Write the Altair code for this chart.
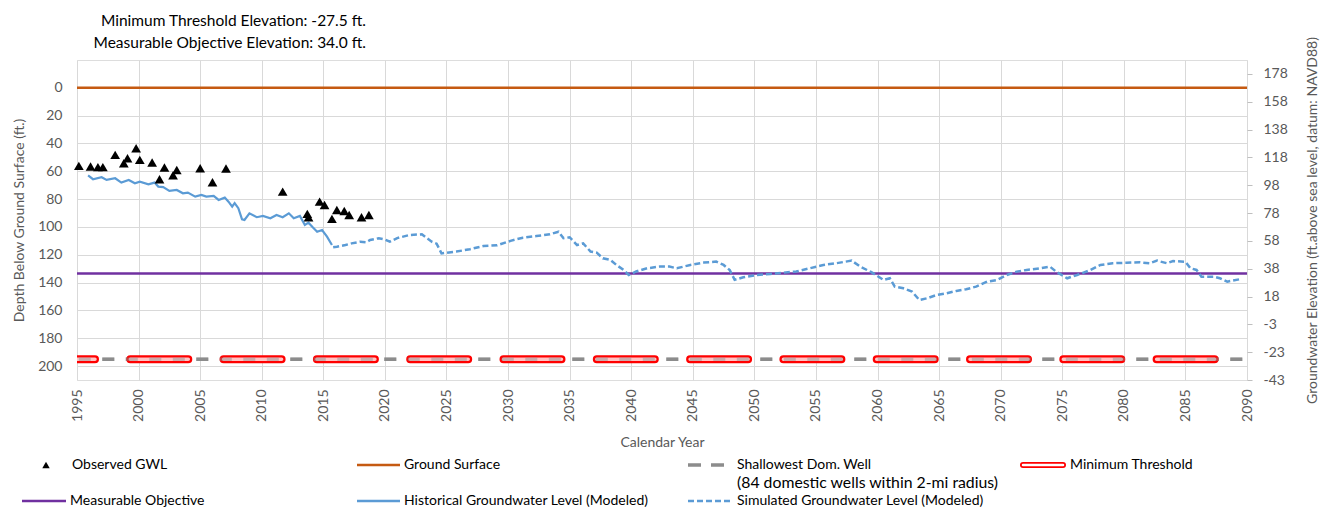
import altair as alt
import pandas as pd

# ---------------- data ----------------
obs_year = [1995.15, 1996.1, 1996.7, 1997.1, 1998.1, 1998.8, 1999.1, 1999.8, 2000.1,
            2001.1, 2001.7, 2002.1, 2002.8, 2003.1, 2005.0, 2006.0, 2007.1, 2011.7,
            2013.7, 2013.8, 2014.7, 2015.1, 2015.7, 2016.1, 2016.7, 2017.1, 2018.1, 2018.7]
obs_depth = [56.1, 56.6, 57.0, 57.0, 48.2, 54.2, 50.6, 43.4, 51.8,
             53.7, 65.7, 57.3, 62.8, 59.0, 57.8, 67.9, 58.0, 74.6,
             90.6, 93.0, 81.8, 84.2, 94.2, 87.8, 88.5, 91.4, 93.0, 91.4]

hist_year = [1995.9, 1996.3, 1997.0, 1997.4, 1998.1, 1998.6, 1999.2, 1999.7, 2000.1, 2000.8,
             2001.3, 2001.6, 2002.0, 2002.5, 2003.1, 2003.6, 2004.0, 2004.6, 2005.1, 2005.5,
             2006.1, 2006.5, 2007.0, 2007.3, 2007.6, 2007.8, 2008.1, 2008.4, 2008.6, 2009.0,
             2009.6, 2010.1, 2010.7, 2011.2, 2011.7, 2012.2, 2012.6, 2013.1, 2013.5, 2013.8,
             2014.1, 2014.5, 2014.9, 2015.3, 2015.7]
hist_depth = [63.0, 65.7, 64.3, 66.2, 65.0, 68.1, 66.2, 68.6, 67.4, 69.3,
              68.1, 71.0, 71.4, 74.1, 73.4, 75.8, 75.3, 78.2, 77.0, 78.2,
              77.7, 80.6, 78.9, 81.8, 85.4, 82.9, 86.5, 94.5, 95.0, 90.2,
              93.0, 92.1, 93.8, 91.4, 93.0, 90.2, 93.8, 92.1, 98.6, 96.9,
              99.8, 103.4, 102.2, 107.0, 113.0]

sim_year = [2015.8, 2016.1, 2016.5, 2016.8, 2017.3, 2018.0, 2018.5, 2018.8, 2019.5, 2020.0,
            2020.4, 2021.0, 2022.0, 2023.0, 2023.8, 2024.2, 2024.6, 2025.8, 2026.9, 2028.0,
            2029.1, 2030.2, 2031.2, 2032.3, 2033.4, 2034.1, 2034.5, 2035.0, 2035.6, 2036.1,
            2036.7, 2037.2, 2037.7, 2038.3, 2038.8, 2039.4, 2039.8, 2040.4, 2041.3, 2042.3,
            2043.1, 2043.7, 2044.8, 2045.9, 2046.9, 2047.5, 2048.0, 2048.4, 2049.1, 2050.2,
            2051.3, 2052.3, 2053.4, 2054.5, 2055.6, 2056.7, 2057.9, 2058.6, 2059.5, 2060.5,
            2061.0, 2061.4, 2062.1, 2062.8, 2063.4, 2064.0, 2064.8, 2065.6, 2066.4, 2067.2,
            2068.0, 2068.9, 2069.7, 2070.5, 2071.3, 2072.1, 2073.2, 2074.0, 2074.5, 2075.4,
            2076.2, 2077.3, 2078.1, 2079.1, 2080.2, 2081.3, 2082.1, 2082.7, 2083.5, 2084.0,
            2085.0, 2085.4, 2085.9, 2086.3, 2087.3, 2087.8, 2088.4, 2089.4]
sim_depth = [114.6, 114.2, 113.5, 113.0, 111.8, 110.6, 111.0, 109.4, 108.1, 109.0,
             110.6, 108.0, 105.8, 105.3, 110.6, 112.0, 119.0, 117.7, 116.0, 113.7,
             113.2, 110.0, 107.7, 106.5, 105.3, 103.4, 108.1, 107.4, 113.0, 111.8,
             117.7, 118.5, 122.5, 123.7, 127.3, 131.0, 134.5, 132.0, 129.7, 128.5,
             128.5, 129.7, 127.3, 125.6, 124.9, 127.3, 131.0, 138.0, 136.2, 134.5,
             133.8, 132.9, 132.0, 129.7, 127.3, 126.0, 124.2, 128.5, 132.5, 138.1,
             136.9, 142.9, 144.1, 146.5, 152.5, 151.3, 148.9, 147.7, 146.0, 144.8,
             142.9, 139.3, 138.1, 134.5, 132.1, 130.9, 129.7, 128.5, 132.1, 136.9,
             134.5, 130.9, 127.3, 126.1, 125.7, 125.4, 126.1, 124.2, 126.1, 124.5,
             125.0, 129.7, 130.9, 135.7, 135.7, 136.9, 139.3, 137.6]

GROUND_ELEV = 167.5
MT_ELEV = -27.5
SDW_ELEV = -27.5
MO_ELEV = 34.0
X_RANGE = [1995, 2090]

year_ticks = [1995, 2000, 2005, 2010, 2015, 2020, 2025, 2030, 2035, 2040,
              2045, 2050, 2055, 2060, 2065, 2070, 2075, 2080, 2085, 2090]
depth_ticks = [0, 20, 40, 60, 80, 100, 120, 140, 160, 180, 200]
elev_ticks = [-42.5, -22.5, -2.5, 17.5, 37.5, 57.5, 77.5, 97.5, 117.5, 137.5, 157.5, 177.5]

TITLE = "Hydrograph CASGEM ID 10051 - Outside CC"
INFO_LINES = ["Elevation of Shallowest Domestic Well: -27.5 ft.",
              "Minimum Threshold Elevation: -27.5 ft.",
              "Measurable Objective Elevation: 34.0 ft."]

# ---------------- frames ----------------
obs_df = pd.DataFrame({"year": obs_year, "depth": obs_depth})
hist_df = pd.DataFrame({"year": hist_year, "depth": hist_depth})
sim_df = pd.DataFrame({"year": sim_year, "depth": sim_depth})
mo_df = pd.DataFrame({"year": X_RANGE, "depth": [GROUND_ELEV - MO_ELEV] * 2})
mt_df = pd.DataFrame({"year": X_RANGE, "depth": [GROUND_ELEV - MT_ELEV] * 2})
sdw_df = pd.DataFrame({"year": X_RANGE, "depth": [GROUND_ELEV - SDW_ELEV] * 2})
gs_df = pd.DataFrame({"year": X_RANGE, "elev": [GROUND_ELEV] * 2})
one = pd.DataFrame({"a": [0]})

FONT = "Lato"
GRAY_TXT = "#595959"
W, H = 1170, 320

x_enc = alt.X("year:Q",
              scale=alt.Scale(domain=X_RANGE, nice=False, zero=False),
              axis=alt.Axis(values=year_ticks, format="d", labelAngle=-90,
                            title="Calendar Year", grid=True, gridColor="#d9d9d9",
                            ticks=False, domain=False, labelPadding=9,
                            labelFontSize=14, titleFontSize=14, titlePadding=14,
                            labelColor=GRAY_TXT, titleColor=GRAY_TXT,
                            labelFont=FONT, titleFont=FONT, titleFontWeight="normal"))
y_enc = alt.Y("depth:Q",
              scale=alt.Scale(domain=[-20, 210], reverse=True, nice=False, zero=False),
              axis=alt.Axis(values=depth_ticks, title="Depth Below Ground Surface  (ft.)",
                            grid=True, gridColor="#d9d9d9", ticks=False, domain=False,
                            labelPadding=15, labelFontSize=14, titleFontSize=14,
                            titlePadding=11, labelColor=GRAY_TXT, titleColor=GRAY_TXT,
                            labelFont=FONT, titleFont=FONT, titleFontWeight="normal"))

base = lambda df: alt.Chart(df)

mo = base(mo_df).mark_line(color="#7030a0", strokeWidth=2.5).encode(x=x_enc, y=y_enc)
sdw = base(sdw_df).mark_line(color="#8c8c8c", strokeWidth=3.5, strokeDash=[12, 11.5],
                             strokeDashOffset=21.7, clip=True).encode(x=x_enc, y=y_enc)
mt_outer = base(mt_df).mark_line(color="#ff0000", strokeWidth=8, strokeCap="round",
                                 strokeDash=[58, 35.3], strokeDashOffset=40,
                                 clip=True).encode(x=x_enc, y=y_enc)
mt_inner = base(mt_df).mark_line(color="#ffc4c4", strokeWidth=3.5, strokeCap="round",
                                 strokeDash=[58, 35.3], strokeDashOffset=40,
                                 clip=True).encode(x=x_enc, y=y_enc)
sdw_over = base(sdw_df).mark_line(color="#8c8c8c", strokeWidth=3.5, strokeDash=[12, 11.5],
                                  strokeDashOffset=21.7, opacity=0.45,
                                  clip=True).encode(x=x_enc, y=y_enc)
hist = base(hist_df).mark_line(color="#5b9bd5", strokeWidth=2.2).encode(x=x_enc, y=y_enc)
sim = base(sim_df).mark_line(color="#5b9bd5", strokeWidth=2.5, strokeDash=[6, 3]).encode(x=x_enc, y=y_enc)
obs = base(obs_df).mark_point(shape="triangle-up", filled=True, size=95, color="black",
                              opacity=1).encode(x=x_enc, y=y_enc)

# ---- text above the plot (positions in px relative to plot origin) ----
def txt(s, x, y, size=14, align="left", color="black", font=FONT):
    return base(one).mark_text(text=s, align=align, baseline="middle", fontSize=size,
                               font=font, color=color).encode(x=alt.value(x), y=alt.value(y))

info = [txt(INFO_LINES[0], 289, -62, 15.5, "right"),
        txt(INFO_LINES[1], 289, -39, 15.5, "right"),
        txt(INFO_LINES[2], 289, -17, 15.5, "right"),
        txt(TITLE, 543, -63, 20, "center", GRAY_TXT)]

# ---- legend ----
def rule(x1, x2, y, color, width, dash=None, cap="butt"):
    kw = dict(color=color, strokeWidth=width, strokeCap=cap)
    if dash:
        kw["strokeDash"] = dash
    return base(one).mark_rule(**kw).encode(x=alt.value(x1), x2=alt.value(x2), y=alt.value(y))

R1, R1b, R2 = 405, 423, 441
legend = [
    base(one).mark_point(shape="triangle-up", filled=True, size=55, color="black",
                         opacity=1).encode(x=alt.value(-31), y=alt.value(R1)),
    txt("Observed GWL", -5, R1),
    rule(280, 323, R1, "#c55a11", 2.5),
    txt("Ground Surface", 327, R1),
    rule(611, 650, R1, "#8c8c8c", 3.5, [13, 10]),
    txt("Shallowest Dom. Well", 660, R1),
    txt("(84 domestic wells within 2-mi radius)", 660, R1b, 15.8),
    rule(946, 986, R1, "#ff0000", 6, None, "round"),
    rule(946, 986, R1, "#ffffff", 2.5, None, "round"),
    txt("Minimum Threshold", 993, R1),
    rule(-55, -11, R2, "#7030a0", 2.5),
    txt("Measurable Objective", -7, R2),
    rule(280, 323, R2, "#5b9bd5", 2.5),
    txt("Historical Groundwater Level (Modeled)", 327, R2),
    rule(611, 656, R2, "#5b9bd5", 2.5, [6, 3]),
    txt("Simulated Groundwater Level (Modeled)", 660, R2),
]

left = alt.layer(mo, sdw, mt_outer, mt_inner, sdw_over, hist, sim, obs, *info, *legend)

right_y = alt.Y("elev:Q",
                scale=alt.Scale(domain=[-42.5, 187.5], nice=False, zero=False),
                axis=alt.Axis(orient="right", values=elev_ticks,
                              labelExpr="datum.value < 0 ? '-' + format(-datum.value, '.0f') : format(datum.value, '.0f')",
                              title="Groundwater Elevation (ft.above sea level, datum: NAVD88)",
                              titleAngle=270, grid=False, ticks=True, tickSize=5,
                              tickColor="#bfbfbf", domain=False, labelPadding=11,
                              labelFontSize=14, titleFontSize=14, titlePadding=32,
                              labelColor=GRAY_TXT, titleColor=GRAY_TXT,
                              labelFont=FONT, titleFont=FONT, titleFontWeight="normal"))
ground = base(gs_df).mark_line(color="#c55a11", strokeWidth=2.5).encode(x=x_enc, y=right_y)

chart = alt.layer(left, ground).resolve_scale(y="independent").properties(
    width=W, height=H,
    autosize=alt.AutoSizeParams(type="none"),
    padding={"left": 69, "top": 52, "right": 76, "bottom": 129},
).configure_view(stroke="#bfbfbf", strokeWidth=1).configure(background="white")

chart.save("out.html", embed_options={"renderer": "svg", "actions": False})
